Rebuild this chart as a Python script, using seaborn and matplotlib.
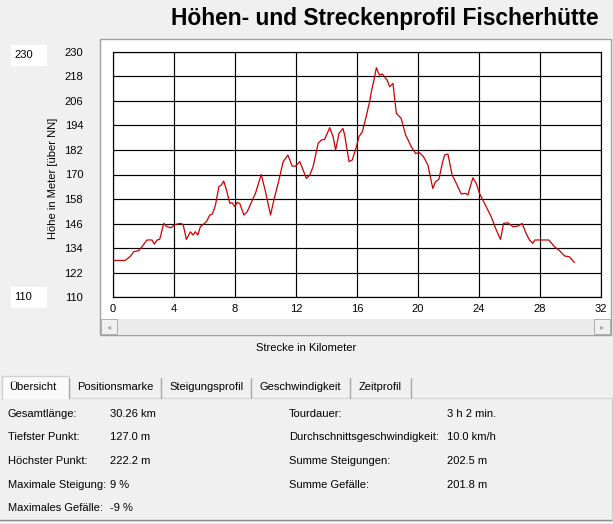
import numpy as np
import pandas as pd
import matplotlib
matplotlib.use("Agg")
import matplotlib.pyplot as plt
import seaborn as sns
from matplotlib.patches import Rectangle
from matplotlib.lines import Line2D

# Profile data
km = [0, 0.8, 1.14, 1.36, 1.68, 1.9, 2.23, 2.56, 2.71, 2.89,
      3.06, 3.33, 3.54, 3.8, 4.09, 4.42, 4.6, 4.81, 5.08, 5.25,
      5.4, 5.56, 5.73, 5.95, 6.13, 6.35, 6.52, 6.72, 6.94, 7.11,
      7.26, 7.44, 7.66, 7.81, 7.99, 8.14, 8.31, 8.58, 8.8, 9.06,
      9.34, 9.72, 10.0, 10.33, 10.55, 10.88, 11.16, 11.47, 11.75, 11.97,
      12.25, 12.68, 12.9, 13.12, 13.45, 13.66, 13.88, 14.21, 14.43, 14.6,
      14.82, 15.08, 15.19, 15.48, 15.69, 15.96, 16.13, 16.35, 16.57, 16.83,
      16.94, 17.09, 17.27, 17.4, 17.48, 17.66, 17.97, 18.14, 18.36, 18.58,
      18.9, 19.19, 19.56, 19.84, 20.1, 20.36, 20.65, 20.97, 21.15, 21.37,
      21.59, 21.74, 21.96, 22.24, 22.51, 22.83, 23.12, 23.27, 23.6, 23.82,
      24.03, 24.36, 24.8, 25.13, 25.41, 25.61, 25.9, 26.22, 26.55, 26.83,
      27.09, 27.31, 27.53, 27.66, 27.97, 28.58, 28.95, 29.28, 29.61, 29.93,
      30.26]
hoehe = [128.0, 128.0, 130.0, 132.3, 132.8, 134.7, 138.0, 138.0, 136.0, 138.0,
         138.3, 146.1, 144.5, 144.0, 145.6, 146.1, 145.6, 138.3, 142.0, 140.4,
         142.0, 140.4, 144.5, 145.8, 147.0, 150.2, 150.7, 155.1, 164.0, 164.9,
         166.8, 162.4, 155.9, 156.2, 154.3, 156.4, 155.9, 150.2, 151.8, 156.2,
         160.8, 170.0, 161.6, 150.2, 157.5, 167.3, 176.3, 179.5, 174.1, 174.1,
         176.3, 168.1, 169.7, 173.8, 185.2, 186.8, 187.2, 192.9, 188.5, 182.0,
         190.1, 192.5, 189.3, 176.3, 177.1, 183.6, 188.5, 190.9, 197.4, 205.6,
         210.5, 215.3, 222.2, 219.7, 218.6, 219.1, 216.2, 212.9, 214.5, 199.9,
         197.4, 189.3, 183.6, 180.3, 180.7, 178.7, 174.6, 163.2, 166.5, 167.6,
         175.4, 179.5, 180.0, 169.7, 165.7, 160.5, 160.8, 160.0, 168.4, 165.7,
         160.8, 155.9, 149.4, 142.9, 138.3, 146.1, 146.4, 144.5, 144.8, 146.1,
         141.2, 138.0, 136.4, 138.0, 138.0, 138.0, 134.7, 132.8, 130.2, 129.8,
         127.0]

x_ticks = [0, 4, 8, 12, 16, 20, 24, 28, 32]
y_ticks = [110, 122, 134, 146, 158, 170, 182, 194, 206, 218, 230]
y_range_boxes = ["230", "110"]

title = "Höhen- und Streckenprofil Fischerhütte"
x_label = "Strecke in Kilometer"
y_label = "Höhe in Meter [über NN]"

tabs = ["Übersicht", "Positionsmarke", "Steigungsprofil", "Geschwindigkeit", "Zeitprofil"]

info_left_labels = ["Gesamtlänge:", "Tiefster Punkt:", "Höchster Punkt:", "Maximale Steigung:", "Maximales Gefälle:"]
info_left_values = ["30.26 km", "127.0 m", "222.2 m", "9 %", "-9 %"]
info_right_labels = ["Tourdauer:", "Durchschnittsgeschwindigkeit:", "Summe Steigungen:", "Summe Gefälle:"]
info_right_values = ["3 h 2 min.", "10.0 km/h", "202.5 m", "201.8 m"]

df = pd.DataFrame({"km": km, "hoehe": hoehe})

sns.set_theme(style="white")
plt.rcParams['font.family'] = ['Liberation Sans', 'DejaVu Sans']
plt.rcParams['text.color'] = 'black'
plt.rcParams['xtick.color'] = 'black'
plt.rcParams['ytick.color'] = 'black'

W, H = 613, 524
bg = '#F0F0F0'
fig = plt.figure(figsize=(W / 100, H / 100), dpi=100, facecolor=bg)


def fx(x):
    return x / W


def fy(y):
    return 1 - y / H


def rect(x0, y0, x1, y1, **kw):
    fig.patches.append(Rectangle((fx(x0), fy(y1)), fx(x1) - fx(x0), fy(y0) - fy(y1),
                                 transform=fig.transFigure, zorder=0, **kw))


def hline(x0, x1, y, **kw):
    fig.add_artist(Line2D([fx(x0), fx(x1)], [fy(y), fy(y)], transform=fig.transFigure, **kw))


def vline(x, y0, y1, **kw):
    fig.add_artist(Line2D([fx(x), fx(x)], [fy(y0), fy(y1)], transform=fig.transFigure, **kw))


# Title
fig.text(fx(599), fy(19), title, ha='right', va='center', fontsize=16.4, fontweight='bold')

# white chart frame with scroll bar
rect(100, 39, 611, 335, facecolor='white', edgecolor='#A0A0A0', lw=1)
rect(101, 319, 610, 334, facecolor='#EBEBEB', edgecolor='none')
rect(101, 319, 117, 334, facecolor='#F0F0F0', edgecolor='#B0B0B0', lw=0.7)
rect(594, 319, 610, 334, facecolor='#F0F0F0', edgecolor='#B0B0B0', lw=0.7)
fig.text(fx(109), fy(326.5), "◂", ha='center', va='center', fontsize=6, color='#A8A8A8',
         family='DejaVu Sans')
fig.text(fx(602), fy(326.5), "▸", ha='center', va='center', fontsize=6, color='#A8A8A8',
         family='DejaVu Sans')

# small range boxes on the left
for label, (y0, y1) in zip(y_range_boxes, [(45, 66), (287, 308)]):
    rect(11, y0, 47, y1, facecolor='white', edgecolor='none')
    fig.text(fx(14), fy((y0 + y1) / 2), label, ha='left', va='center', fontsize=8)

# Main plot
ax = fig.add_axes([fx(113), fy(297.3), fx(601) - fx(113), (297.3 - 51.7) / H])
ax.set_zorder(5)
ax.set_facecolor('white')
sns.lineplot(data=df, x="km", y="hoehe", color='#CC0000', lw=0.9, estimator=None, sort=False, ax=ax)
ax.set_xlim(0, 32)
ax.set_ylim(110, 230)
ax.set_xticks(x_ticks)
ax.set_yticks(y_ticks)
ax.grid(True, color='black', lw=0.85)
for side in ax.spines.values():
    side.set_color('black')
    side.set_linewidth(0.85)
ax.tick_params(axis='y', length=0, labelsize=8, pad=21.5, labelcolor='black')
ax.tick_params(axis='x', length=0, labelsize=8, pad=5, labelcolor='black')
ax.set_xlabel("")
ax.set_ylabel("")

fig.text(fx(53), fy(178), y_label, rotation=90, ha='center', va='center', fontsize=8)
fig.text(fx(306), fy(348), x_label, ha='center', va='center', fontsize=8)

# Tabs
tab_text_x = [9, 77, 169, 260, 359]
tab_seps = [69, 161, 251, 350, 411]
rect(2, 376, 69, 399, facecolor='#FAFAFA', edgecolor='none')
hline(69, 613, 398, color='#D9D9D9', lw=1)
vline(2, 376, 399, color='#D0D0D0', lw=1)
hline(2, 69, 376, color='#D0D0D0', lw=1)
for x in tab_seps:
    vline(x, 378, 398, color='#A8A8A8', lw=1)
for name, x in zip(tabs, tab_text_x):
    fig.text(fx(x), fy(387), name, ha='left', va='center', fontsize=8)

# Info panel
rows_y = [414, 437, 461, 485, 508]
for y, lab, val in zip(rows_y, info_left_labels, info_left_values):
    fig.text(fx(8), fy(y), lab, ha='left', va='center', fontsize=8)
    fig.text(fx(110), fy(y), val, ha='left', va='center', fontsize=8)
for y, lab, val in zip(rows_y, info_right_labels, info_right_values):
    fig.text(fx(289), fy(y), lab, ha='left', va='center', fontsize=8)
    fig.text(fx(447), fy(y), val, ha='left', va='center', fontsize=8)

hline(0, 613, 520, color='#8A8A8A', lw=1)
vline(612, 398, 520, color='#D0D0D0', lw=1)

fig.savefig("out.png", dpi=100, facecolor=bg)
